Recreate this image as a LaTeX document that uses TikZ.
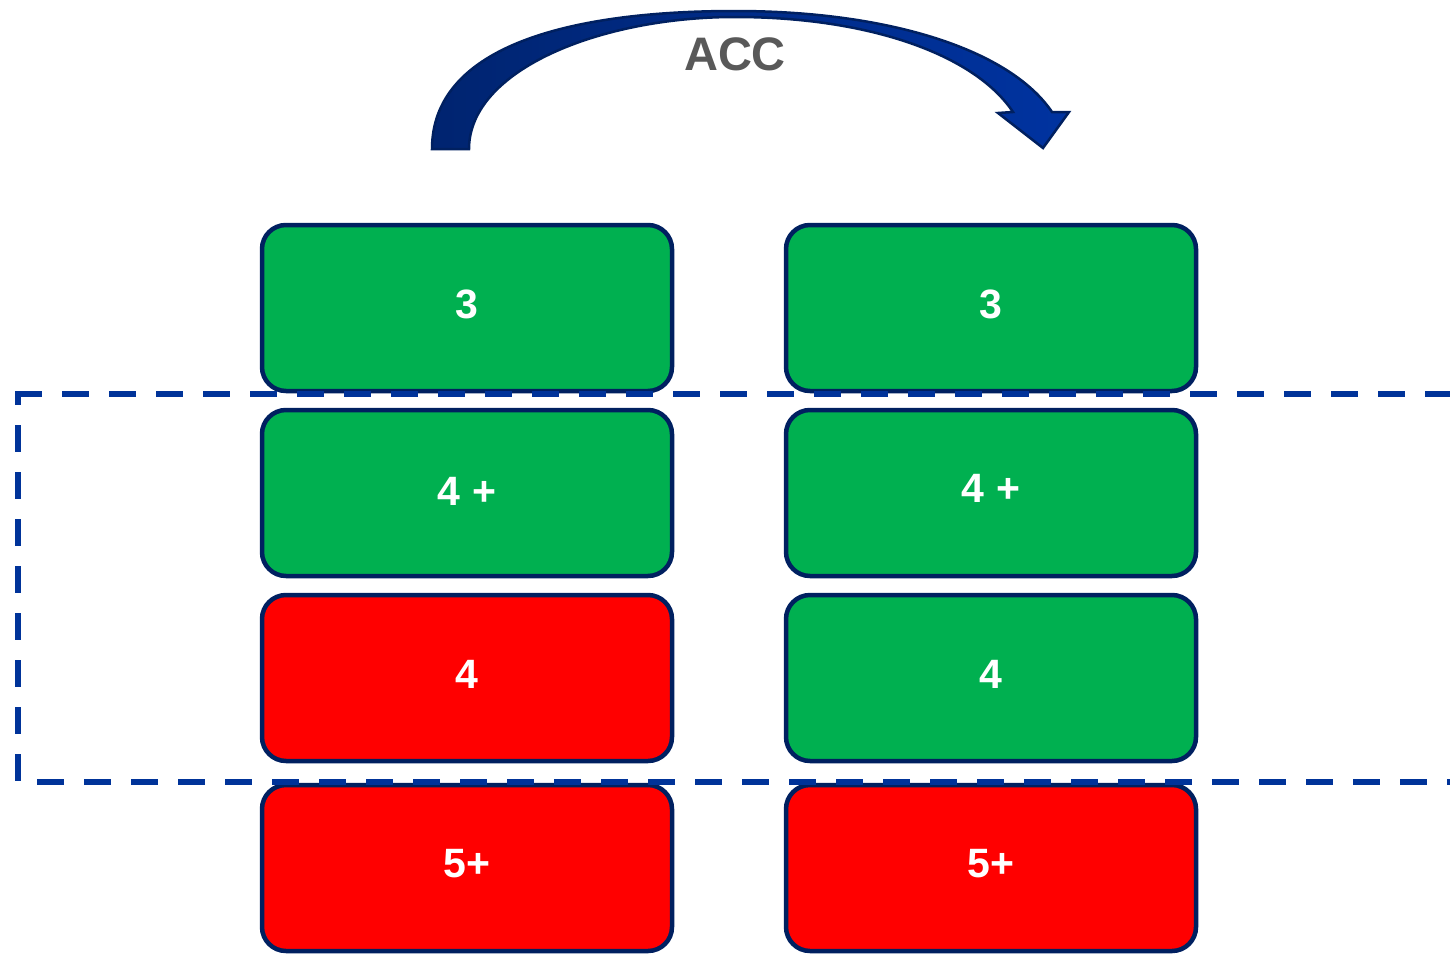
\documentclass[tikz,border=0pt]{standalone}
\usepackage{fontspec}
\setmainfont{Liberation Sans}
\definecolor{navy}{RGB}{0,32,96}
\definecolor{okgreen}{RGB}{0,176,80}
\definecolor{badred}{RGB}{255,0,0}
\definecolor{dashblue}{RGB}{0,51,153}
\definecolor{arrowL}{RGB}{0,36,112}
\definecolor{arrowR}{RGB}{0,51,160}
\definecolor{accgray}{RGB}{89,89,89}
\begin{document}
\begin{tikzpicture}[x=1pt,y=-1pt,
  box/.style={draw=navy, line width=4.5pt, rounded corners=24pt,
    minimum width=410pt, minimum height=166pt, inner sep=0pt},
  okbox/.style={box, fill=okgreen},
  badbox/.style={box, fill=badred},
  num/.style={text=white, font=\bfseries\fontsize{41}{48}\selectfont, inner sep=0pt},
  zone/.style={draw=dashblue, line width=6pt, dash pattern=on 27pt off 20pt}]
\useasboundingbox (0,0) rectangle (1450,953);

% curved arrow
\path[draw=navy, line width=2.5pt, left color=arrowL, right color=arrowR]
  (432,149) .. controls (432,50) and (560,11) .. (735,11)
  .. controls (890,11) and (1010,50) .. (1052,112)
  -- (1069,112) -- (1043,148) -- (998,113) -- (1013,112)
  .. controls (975,55) and (870,17) .. (735,17)
  .. controls (600,17) and (469,70) .. (469,149) -- cycle;
\node[text=accgray, font=\bfseries\fontsize{47}{56}\selectfont, inner sep=0pt] (acc) at (735,54) {ACC};

% left column
\node[okbox]  (l1) at (467,308) {};
\node[okbox]  (l2) at (467,493) {};
\node[badbox] (l3) at (467,678) {};
\node[badbox] (l4) at (467,868) {};
% right column
\node[okbox]  (r1) at (991,308) {};
\node[okbox]  (r2) at (991,493) {};
\node[okbox]  (r3) at (991,678) {};
\node[badbox] (r4) at (991,868) {};

% labels
\node[num] (tl1) at ([yshift=4pt]l1.center) {3};
\node[num] (tl2) at ([yshift=2pt]l2.center) {4 +};
\node[num] (tl3) at ([yshift=4pt]l3.center) {4};
\node[num] (tl4) at ([yshift=4pt]l4.center) {5+};
\node[num] (tr1) at ([yshift=4pt]r1.center) {3};
\node[num] (tr2) at ([yshift=5pt]r2.center) {4 +};
\node[num] (tr3) at ([yshift=4pt]r3.center) {4};
\node[num] (tr4) at ([yshift=4pt]r4.center) {5+};

% dashed zone
\draw[zone] (15,394) -- (1470,394);
\draw[zone, dash phase=16pt] (18,394) -- (18,782) -- (1470,782);
\end{tikzpicture}
\end{document}
